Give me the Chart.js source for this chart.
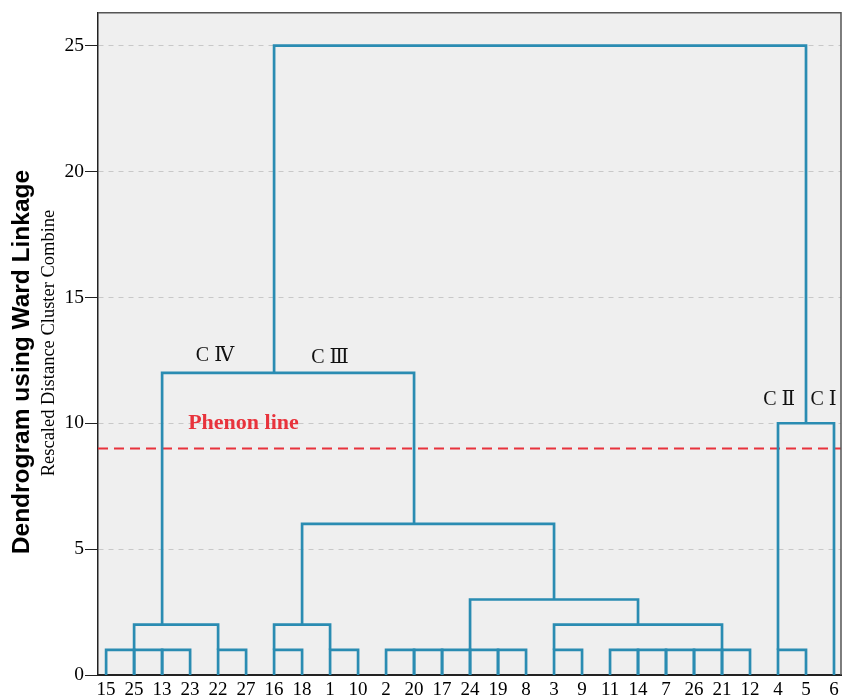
<!DOCTYPE html>
<html>
<head>
<meta charset="utf-8">
<script src="https://cdn.jsdelivr.net/npm/chart.js@4.4.0/dist/chart.umd.min.js"></script>
<style>
  html, body { margin: 0; padding: 0; background: #fff; }
</style>
</head>
<body>
<canvas id="dendro" width="843" height="697"></canvas>
<script>
// Leaf order along the bottom axis
const leafLabels = ['15','25','13','23','22','27','16','18','1','10','2','20','17','24','19','8','3','9','11','14','7','26','21','12','4','5','6'];
const yTickValues = [0, 5, 10, 15, 20, 25];

// each link: [left leaf pos, left base height, right leaf pos, right base height, merge height]
const links = [
    [0, 0, 1, 0, 1], [1, 0, 2, 0, 1], [2, 0, 3, 0, 1], [4, 0, 5, 0, 1],
    [1, 1, 4, 1, 2],
    [6, 0, 7, 0, 1], [8, 0, 9, 0, 1],
    [6, 1, 8, 1, 2],
    [10, 0, 11, 0, 1], [11, 0, 12, 0, 1], [12, 0, 13, 0, 1], [13, 0, 14, 0, 1], [14, 0, 15, 0, 1],
    [16, 0, 17, 0, 1],
    [18, 0, 19, 0, 1], [19, 0, 20, 0, 1], [20, 0, 21, 0, 1], [21, 0, 22, 0, 1], [22, 0, 23, 0, 1],
    [16, 1, 22, 1, 2],
    [13, 1, 19, 2, 3],
    [7, 2, 16, 3, 6],
    [2, 2, 11, 6, 12],
    [24, 0, 25, 0, 1],
    [24, 1, 26, 0, 10],
    [6, 12, 25, 10, 25]
];

const phenonLevel = 9;
const clusterNames = ['C Ⅳ', 'C Ⅲ', 'C Ⅱ', 'C Ⅰ'];

const X_MIN = -0.29, X_MAX = 26.25, Y_MAX = 26.31;
const LINK_COLOR = '#2a8cb2';
const SERIF = '"Liberation Serif", "Times New Roman", "DejaVu Serif", serif';

// where the cluster names sit (data units)
const clusterNamePos = [[3.89, 12.46], [8.0, 12.38], [24.04, 10.71], [25.63, 10.71]];

const datasets = links.map(([xl, bl, xr, br, h]) => ({
    data: [{x: xl, y: bl}, {x: xl, y: h}, {x: xr, y: h}, {x: xr, y: br}],
    showLine: true,
    borderColor: LINK_COLOR,
    borderWidth: 2.7,
    borderJoinStyle: 'miter',
    borderCapStyle: 'butt',
    pointRadius: 0,
    fill: false,
    tension: 0
}));

datasets.push({
    data: [{x: X_MIN, y: phenonLevel}, {x: X_MAX, y: phenonLevel}],
    showLine: true,
    borderColor: '#e8333c',
    borderWidth: 2,
    borderDash: [10, 6],
    pointRadius: 0,
    fill: false
});

const decor = {
    id: 'decor',
    beforeDraw(chart) {
        const {ctx, chartArea: a} = chart;
        ctx.save();
        ctx.fillStyle = '#efefef';
        ctx.fillRect(a.left, a.top, a.right - a.left, a.bottom - a.top);
        ctx.restore();
    },
    afterDatasetsDraw(chart) {
        const {ctx, chartArea: a, scales: {x, y}} = chart;
        ctx.save();
        // frame on top and right
        ctx.strokeStyle = '#555';
        ctx.lineWidth = 1.5;
        ctx.beginPath();
        ctx.moveTo(a.left, a.top);
        ctx.lineTo(a.right, a.top);
        ctx.lineTo(a.right, a.bottom);
        ctx.stroke();

        // cluster names
        ctx.fillStyle = '#111';
        ctx.font = '20px ' + SERIF;
        ctx.textAlign = 'center';
        ctx.textBaseline = 'alphabetic';
        clusterNames.forEach((t, i) => {
            const [px, py] = clusterNamePos[i];
            ctx.fillText(t, x.getPixelForValue(px), y.getPixelForValue(py));
        });

        // phenon label
        ctx.fillStyle = '#e8333c';
        ctx.font = 'bold 22px ' + SERIF;
        ctx.textAlign = 'left';
        ctx.fillText('Phenon line', x.getPixelForValue(2.93), y.getPixelForValue(9.76));

        // axis titles
        ctx.fillStyle = '#000';
        ctx.textAlign = 'center';
        ctx.textBaseline = 'middle';
        ctx.save();
        ctx.translate(22, 362);
        ctx.rotate(-Math.PI / 2);
        ctx.font = 'bold 24.5px "Liberation Sans", Arial, sans-serif';
        ctx.fillText('Dendrogram using Ward Linkage', 0, 0);
        ctx.restore();
        ctx.save();
        ctx.translate(49, 343);
        ctx.rotate(-Math.PI / 2);
        ctx.font = '18.5px ' + SERIF;
        ctx.fillText('Rescaled Distance Cluster Combine', 0, 0);
        ctx.restore();
        ctx.restore();
    }
};

new Chart(document.getElementById('dendro'), {
    type: 'scatter',
    data: { datasets },
    options: {
        responsive: false,
        animation: false,
        layout: { padding: { top: 12, right: 2, left: 0, bottom: 0 } },
        plugins: {
            legend: { display: false },
            tooltip: { enabled: false }
        },
        scales: {
            x: {
                type: 'linear',
                min: X_MIN,
                max: X_MAX,
                afterFit: (s) => { s.height = 22; },
                afterBuildTicks: (s) => { s.ticks = leafLabels.map((_, i) => ({ value: i })); },
                grid: { display: false, drawTicks: false },
                border: { display: true, color: '#222', width: 2 },
                ticks: {
                    autoSkip: false,
                    maxRotation: 0,
                    padding: 4,
                    color: '#000',
                    font: { family: SERIF, size: 19 },
                    callback: (v) => leafLabels[v]
                }
            },
            y: {
                type: 'linear',
                min: 0,
                max: Y_MAX,
                afterFit: (s) => { s.width = 98; },
                afterBuildTicks: (s) => { s.ticks = yTickValues.map(v => ({ value: v })); },
                grid: {
                    color: (c) => c.tick && c.tick.value === 0 ? 'rgba(0,0,0,0)' : '#c8c8c8',
                    tickColor: '#222',
                    tickLength: 13,
                    tickBorderDash: [],
                    lineWidth: 1
                },
                border: { display: true, color: '#222', width: 1.5, dash: [5, 5] },
                ticks: {
                    padding: 1,
                    color: '#000',
                    font: { family: SERIF, size: 19.5 },
                    callback: (v) => String(v)
                }
            }
        }
    },
    plugins: [decor]
});
</script>
</body>
</html>
